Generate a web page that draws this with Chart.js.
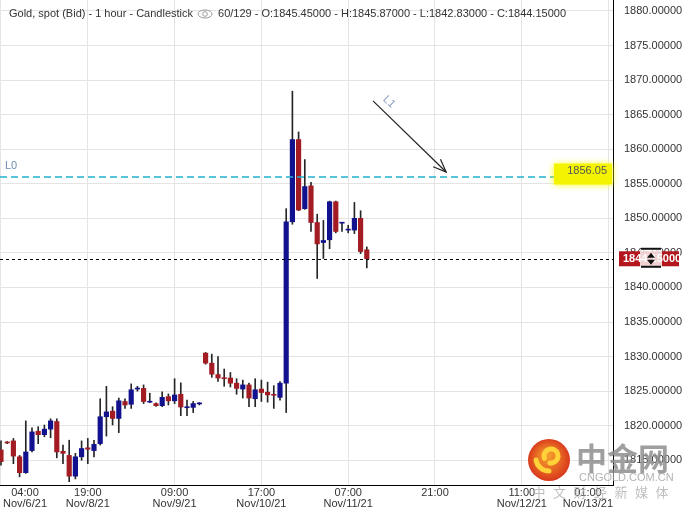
<!DOCTYPE html>
<html>
<head>
<meta charset="utf-8">
<script src="https://cdn.jsdelivr.net/npm/chart.js@4.4.0/dist/chart.umd.min.js"></script>
<style>
  html, body { margin: 0; padding: 0; background: #fff; }
  #wrap { position: relative; width: 683px; height: 509px; }
</style>
</head>
<body>
<div id="wrap"><canvas id="goldChart"></canvas></div>
<script>
// Gold spot (Bid), 1 hour candles
const opens  = [1816.5, 1817.6, 1817.8, 1815.5, 1813.2, 1816.4, 1819.2, 1818.7, 1819.5, 1820.6,
                1816.3, 1815.7, 1812.7, 1815.5, 1816.8, 1816.4, 1817.4, 1821.3, 1822.1, 1821.05,
                1823.5, 1823.1, 1825.3, 1825.4, 1823.4, 1823.2, 1822.9, 1824.2, 1823.6, 1824.55,
                1822.6, 1822.65, 1823.15, 1830.5, 1829.05, 1827.4, 1826.85, 1826.9, 1826.15, 1825.3,
                1825.9, 1823.9, 1825.3, 1824.85, 1824.45, 1824.1, 1826.15, 1849.5, 1861.4, 1851.4,
                1854.7, 1849.4, 1846.5, 1846.9, 1852.4, 1849.3, 1848.3, 1848.3, 1850.0, 1845.45];
const highs  = [1817.8, 1817.7, 1818.15, 1815.7, 1820.7, 1819.7, 1819.85, 1820.1, 1821.0, 1821.0,
                1817.2, 1817.9, 1816.0, 1817.8, 1818.15, 1817.9, 1823.9, 1825.7, 1822.75, 1824.0,
                1823.9, 1826.05, 1825.7, 1825.9, 1824.7, 1823.3, 1824.9, 1824.6, 1826.8, 1826.2,
                1823.7, 1823.5, 1823.35, 1830.6, 1830.35, 1830.0, 1828.2, 1827.7, 1826.8, 1826.6,
                1826.15, 1826.8, 1826.6, 1826.3, 1825.8, 1826.4, 1851.4, 1868.4, 1862.5, 1858.5,
                1855.2, 1850.6, 1849.7, 1852.5, 1852.5, 1849.35, 1849.0, 1852.3, 1851.1, 1845.87];
const lows   = [1814.3, 1817.4, 1814.5, 1812.6, 1813.1, 1816.2, 1817.4, 1818.4, 1818.25, 1815.35,
                1814.5, 1811.9, 1812.3, 1815.0, 1814.5, 1815.5, 1817.2, 1818.5, 1820.1, 1819.0,
                1822.5, 1822.5, 1825.0, 1823.2, 1823.35, 1822.8, 1822.75, 1823.0, 1823.2, 1821.45,
                1821.45, 1821.9, 1823.0, 1828.9, 1827.0, 1826.4, 1825.7, 1825.6, 1824.55, 1824.0,
                1822.75, 1822.75, 1823.5, 1823.4, 1822.5, 1823.7, 1821.9, 1849.15, 1851.1, 1851.3,
                1848.1, 1841.3, 1844.2, 1845.6, 1847.9, 1848.1, 1847.9, 1847.8, 1844.9, 1842.83];
const closes = [1814.8, 1817.5, 1815.6, 1813.2, 1816.2, 1819.1, 1818.7, 1819.5, 1820.7, 1816.2,
                1816.0, 1812.7, 1815.5, 1816.7, 1816.6, 1817.3, 1821.3, 1822.0, 1821.05, 1823.6,
                1823.0, 1825.2, 1825.35, 1823.5, 1823.4, 1822.9, 1824.1, 1823.6, 1824.45, 1822.7,
                1822.6, 1823.2, 1823.2, 1829.05, 1827.45, 1826.9, 1826.8, 1826.15, 1825.4, 1825.9,
                1824.0, 1825.2, 1824.8, 1824.45, 1824.4, 1826.15, 1849.5, 1861.4, 1851.2, 1854.6,
                1849.4, 1846.3, 1846.8, 1852.4, 1848.1, 1849.3, 1848.35, 1850.0, 1845.2, 1844.15];

// time axis: one tick every 14 bars
const timeTickIdx    = [0, 14, 28, 42, 56, 70, 84, 98];
const timeTickLabels = [['04:00', 'Nov/6/21'], ['19:00', 'Nov/8/21'], ['09:00', 'Nov/9/21'],
                        ['17:00', 'Nov/10/21'], ['07:00', 'Nov/11/21'], ['21:00'],
                        ['11:00', 'Nov/12/21'], ['01:00', 'Nov/13/21']];
const priceTicks = [1815, 1820, 1825, 1830, 1835, 1840, 1845, 1850, 1855, 1860, 1865, 1870, 1875, 1880];

// drawn objects on the chart
const levelL0 = 1856.05;
const arrowL1 = { from: [60, 1867], to: [71.8, 1856.7] };

const upColor = '#12128e';
const downColor = '#a31c24';
const wickColor = '#262626';
const FONT = 'Arial, "Liberation Sans", sans-serif';

const last = closes.length - 1;
const bodyColors = opens.map((o, i) => closes[i] >= o ? upColor : downColor);

// no extra room around the axes, the plot runs to the canvas edge
const noPad = s => { s.paddingTop = 0; s.paddingBottom = 0; s.paddingLeft = 0; s.paddingRight = 0; };

const overlay = {
  id: 'overlay',
  afterDatasetsDraw(chart) {
    const { ctx, chartArea: a, scales: { x, y } } = chart;
    ctx.save();

    // L0 horizontal level
    const yL0 = Math.round(y.getPixelForValue(levelL0));
    ctx.strokeStyle = '#1fb3cf';
    ctx.lineWidth = 1.4;
    ctx.setLineDash([7, 4]);
    ctx.beginPath(); ctx.moveTo(a.left, yL0); ctx.lineTo(a.right, yL0); ctx.stroke();

    // last price line
    const yLast = Math.round(y.getPixelForValue(closes[last])) + 0.5;
    ctx.strokeStyle = '#000';
    ctx.lineWidth = 1;
    ctx.setLineDash([3, 3]);
    ctx.beginPath(); ctx.moveTo(a.left, yLast); ctx.lineTo(a.right, yLast); ctx.stroke();
    ctx.setLineDash([]);

    // L1 arrow
    const x1 = x.getPixelForValue(arrowL1.from[0]), y1 = y.getPixelForValue(arrowL1.from[1]);
    const x2 = x.getPixelForValue(arrowL1.to[0]), y2 = y.getPixelForValue(arrowL1.to[1]);
    const ang = Math.atan2(y2 - y1, x2 - x1);
    ctx.strokeStyle = '#222';
    ctx.lineWidth = 1.2;
    ctx.beginPath(); ctx.moveTo(x1, y1); ctx.lineTo(x2, y2); ctx.stroke();
    ctx.beginPath();
    ctx.moveTo(x2 - 14 * Math.cos(ang - 0.38), y2 - 14 * Math.sin(ang - 0.38));
    ctx.lineTo(x2, y2);
    ctx.lineTo(x2 - 14 * Math.cos(ang + 0.38), y2 - 14 * Math.sin(ang + 0.38));
    ctx.stroke();

    // L1 label, along the arrow
    ctx.save();
    ctx.translate(x1 + 16, y1 + 1);
    ctx.rotate(ang);
    ctx.fillStyle = '#8d9fc2';
    ctx.font = '11px ' + FONT;
    ctx.textAlign = 'center';
    ctx.textBaseline = 'middle';
    ctx.fillText('L1', 0, 0);
    ctx.restore();

    ctx.restore();
  },
  afterDraw(chart) {
    const { ctx, chartArea: a, scales: { x, y } } = chart;
    ctx.save();
    ctx.font = '11px ' + FONT;
    ctx.textBaseline = 'middle';

    // time labels, kept inside the plot width
    ctx.fillStyle = '#333';
    ctx.textAlign = 'center';
    timeTickIdx.forEach((idx, k) => {
      const lines = timeTickLabels[k];
      const w = Math.max(...lines.map(t => ctx.measureText(t).width));
      let cx = x.getPixelForValue(idx);
      cx = Math.min(Math.max(cx, a.left + 3 + w / 2), a.right - w / 2);
      lines.forEach((t, j) => ctx.fillText(t, cx, a.bottom + 8 + j * 10.5));
    });

    // header
    ctx.textAlign = 'left';
    const head1 = 'Gold, spot (Bid) - 1 hour - Candlestick';
    ctx.fillText(head1, 9, 14);
    const ex = 9 + ctx.measureText(head1).width + 12;
    ctx.strokeStyle = '#9a9a9a';
    ctx.lineWidth = 1;
    ctx.beginPath(); ctx.ellipse(ex, 14, 7, 4, 0, 0, Math.PI * 2); ctx.stroke();
    ctx.beginPath(); ctx.arc(ex, 14, 2.3, 0, Math.PI * 2); ctx.stroke();
    const f = v => v.toFixed(5);
    const head2 = closes.length + '/129 - O:' + f(opens[last]) + ' - H:' + f(highs[last]) +
                  ' - L:' + f(lows[last]) + ' - C:' + f(closes[last]);
    ctx.fillText(head2, ex + 13, 14);

    // L0 label and its value tag
    const yL0 = y.getPixelForValue(levelL0);
    ctx.fillStyle = '#6f8db3';
    ctx.fillText('L0', 5, yL0 - 11);
    ctx.save();
    ctx.shadowColor = '#ffff00';
    ctx.shadowBlur = 7;
    ctx.fillStyle = '#f4f400';
    ctx.fillRect(a.right - 59, yL0 - 13, 58, 21);
    ctx.restore();
    ctx.fillStyle = '#555';
    ctx.textAlign = 'right';
    ctx.fillText(levelL0.toFixed(2), a.right - 6, yL0 - 6);

    // last price tag on the axis
    const yLast = y.getPixelForValue(closes[last]);
    ctx.fillStyle = '#b3171d';
    ctx.fillRect(a.right + 6, yLast - 7.5, 60, 15);
    ctx.fillStyle = '#fff';
    ctx.textAlign = 'left';
    ctx.font = 'bold 11px ' + FONT;
    ctx.fillText(closes[last].toFixed(5), a.right + 10, yLast);
    // drag handle icon over the tag
    const hx = a.right + 38;
    ctx.fillStyle = 'rgba(255,255,255,0.8)';
    ctx.fillRect(hx - 11, yLast - 10, 22, 19);
    ctx.fillStyle = '#111';
    ctx.fillRect(hx - 10, yLast - 11, 20, 2);
    ctx.fillRect(hx - 10, yLast + 7, 20, 2);
    ctx.beginPath();
    ctx.moveTo(hx - 4, yLast - 1); ctx.lineTo(hx + 4, yLast - 1); ctx.lineTo(hx, yLast - 6); ctx.closePath();
    ctx.moveTo(hx - 4, yLast + 1); ctx.lineTo(hx + 4, yLast + 1); ctx.lineTo(hx, yLast + 6); ctx.closePath();
    ctx.fill();

    // watermark
    const lg = ctx.createRadialGradient(547, 455, 3, 549, 460, 22);
    lg.addColorStop(0, '#f39a2a');
    lg.addColorStop(1, '#d8341c');
    ctx.fillStyle = lg;
    ctx.beginPath(); ctx.arc(549, 460, 21, 0, Math.PI * 2); ctx.fill();
    ctx.strokeStyle = '#ffd23a';
    ctx.lineWidth = 5;
    ctx.lineCap = 'round';
    ctx.beginPath(); ctx.arc(551, 456, 7, Math.PI * 0.9, Math.PI * 2.55); ctx.stroke();
    ctx.beginPath(); ctx.arc(549, 458, 13, Math.PI * 0.5, Math.PI * 0.95); ctx.stroke();

    ctx.globalAlpha = 0.85;
    ctx.fillStyle = '#8e8e8e';
    ctx.textAlign = 'left';
    ctx.font = 'bold 31px "Noto Sans CJK SC", sans-serif';
    ctx.fillText('中金网', 576, 458);
    ctx.fillStyle = '#a6a6a6';
    ctx.font = '11px ' + FONT;
    ctx.fillText('CNGOLD.COM.CN', 579, 478);
    ctx.font = '13px "Noto Sans CJK SC", sans-serif';
    ctx.fillStyle = '#b4b4b4';
    ctx.textAlign = 'center';
    '中文财经新媒体'.split('').forEach((c, k) => ctx.fillText(c, 539 + k * 20.5, 492));
    ctx.restore();
  }
};

new Chart(document.getElementById('goldChart'), {
  type: 'bar',
  data: {
    datasets: [
      {
        label: 'body',
        data: opens.map((o, i) => ({ x: i, y: [o, closes[i]] })),
        backgroundColor: bodyColors,
        barThickness: 4.5,
        minBarLength: 1,
        grouped: false
      },
      {
        label: 'wick',
        data: lows.map((l, i) => ({ x: i, y: [l, highs[i]] })),
        backgroundColor: wickColor,
        barThickness: 1,
        grouped: false
      }
    ]
  },
  options: {
    responsive: true,
    maintainAspectRatio: false,
    animation: false,
    layout: { padding: 0 },
    plugins: { legend: { display: false }, tooltip: { enabled: false } },
    scales: {
      x: {
        type: 'linear',
        min: -0.16,
        max: 98.71,
        offset: false,
        afterBuildTicks: s => { s.ticks = timeTickIdx.map(v => ({ value: v })); },
        afterFit: s => { s.height = 24; noPad(s); },
        grid: { color: '#e4e4e4', drawTicks: false, offset: false },
        border: { display: true, color: '#000' },
        ticks: { display: false }
      },
      y: {
        position: 'right',
        min: 1811.42,
        max: 1881.59,
        afterBuildTicks: s => { s.ticks = priceTicks.map(v => ({ value: v })); },
        afterFit: s => { s.width = 70; noPad(s); },
        grid: { color: '#e4e4e4', drawTicks: false },
        border: { display: true, color: '#000' },
        ticks: { padding: 11, color: '#333', font: { size: 11, family: FONT }, callback: v => v.toFixed(5) }
      }
    }
  },
  plugins: [overlay]
});
</script>
</body>
</html>
